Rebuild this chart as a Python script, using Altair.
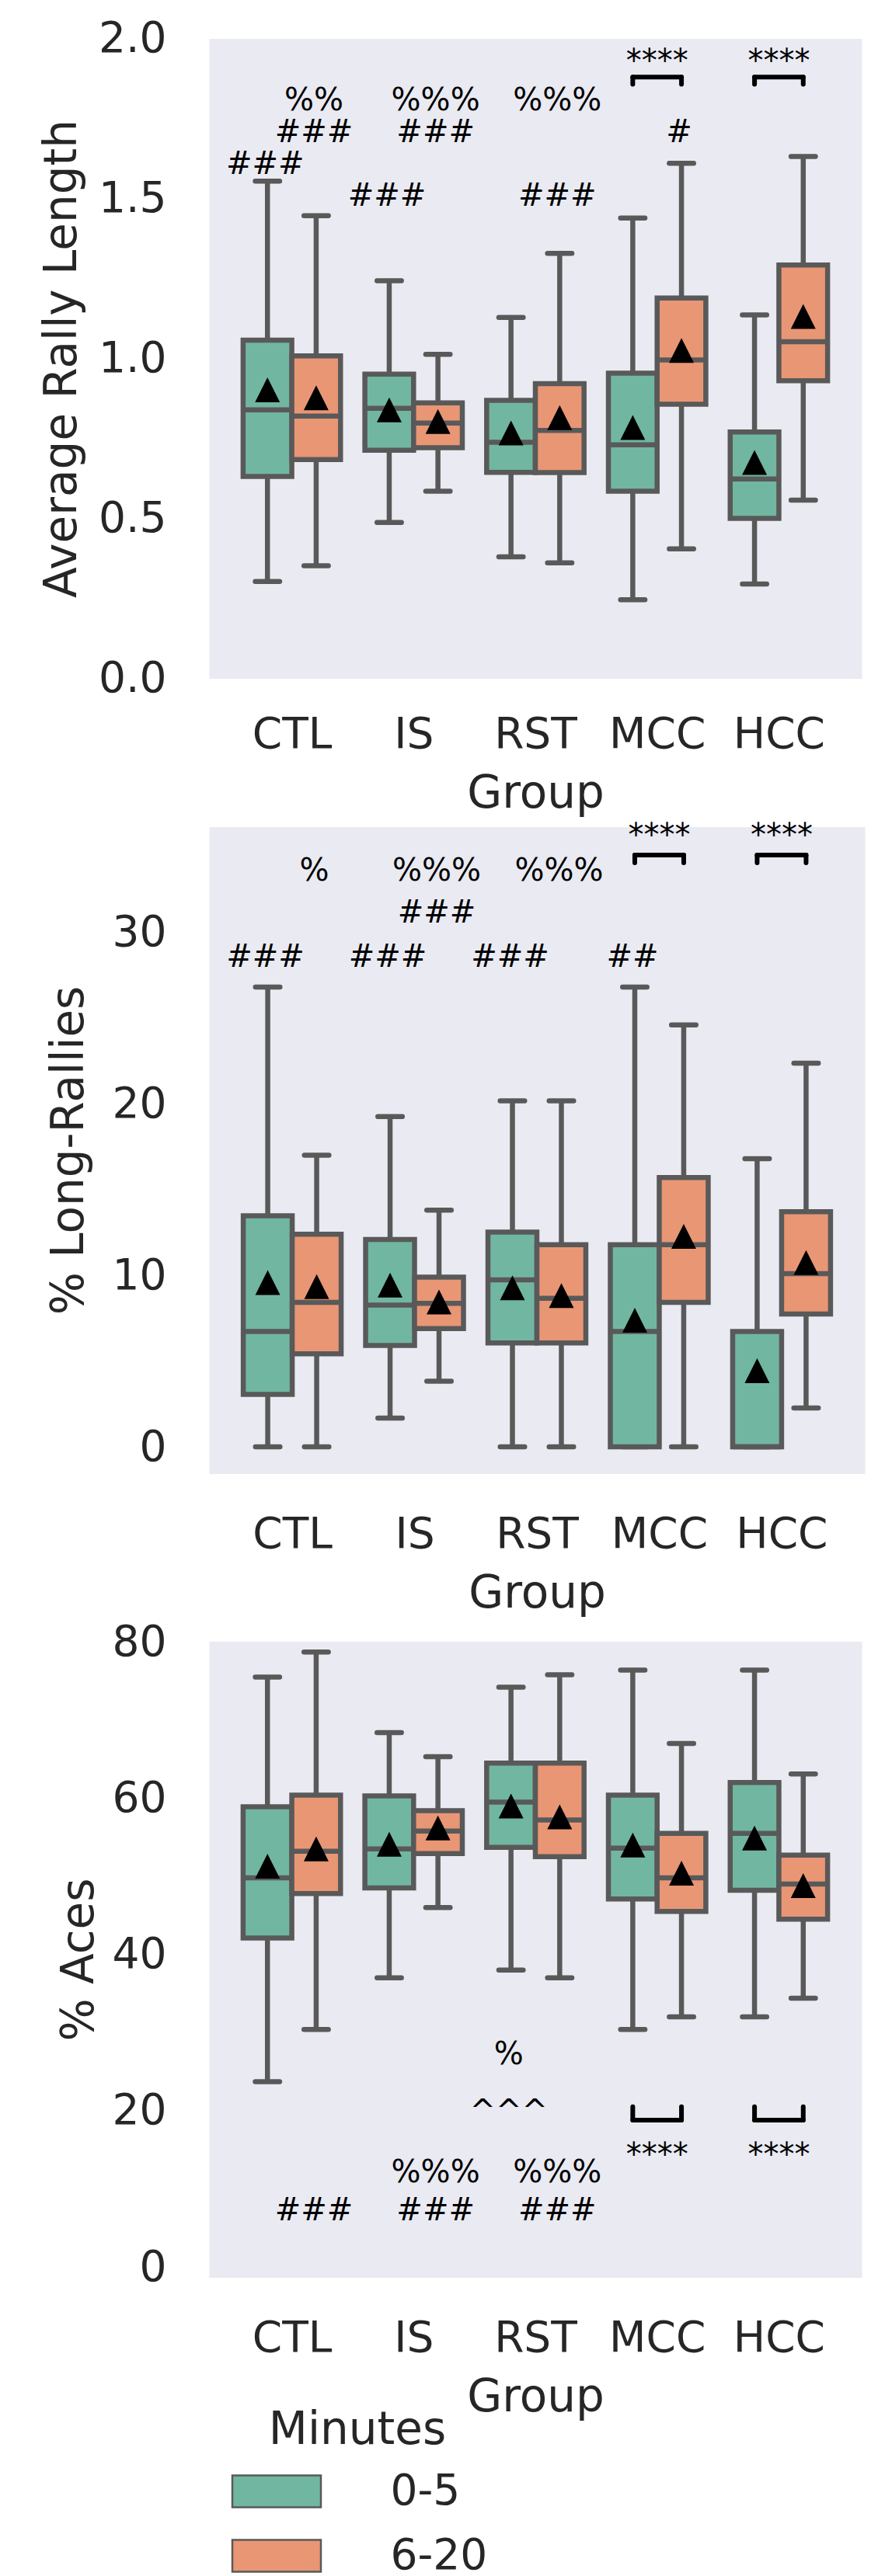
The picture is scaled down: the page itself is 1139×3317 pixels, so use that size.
import altair as alt
import pandas as pd

FONT = "DejaVu Sans"
TEXT = "#262626"
GRAY = "#595959"
BG = "#eaeaf2"

GROUPS = ["CTL", "IS", "RST", "MCC", "HCC"]
MINUTES = ["0-5", "6-20"]
COLORS = ["#71b6a1", "#e99675"]
DODGE = 0.4
X_DOMAIN = [-0.68, 4.68]

# order of every box array: CTL 0-5, CTL 6-20, IS 0-5, IS 6-20, RST ..., MCC ..., HCC ...
RALLY_LOW = [0.303, 0.352, 0.487, 0.585, 0.380, 0.361, 0.246, 0.405, 0.295, 0.557]
RALLY_Q1 = [0.631, 0.684, 0.713, 0.721, 0.644, 0.643, 0.585, 0.857, 0.500, 0.930]
RALLY_MED = [0.839, 0.820, 0.844, 0.798, 0.738, 0.775, 0.730, 0.995, 0.623, 1.052]
RALLY_Q3 = [1.057, 1.008, 0.951, 0.861, 0.869, 0.921, 0.954, 1.189, 0.770, 1.292]
RALLY_HIGH = [1.554, 1.446, 1.243, 1.013, 1.128, 1.328, 1.439, 1.610, 1.136, 1.631]
RALLY_MEAN = [0.902, 0.877, 0.839, 0.803, 0.767, 0.815, 0.784, 1.025, 0.675, 1.131]

LONG_LOW = [0.0, 0.0, 1.68, 3.83, 0.0, 0.0, 0.0, 0.0, 0.0, 2.26]
LONG_Q1 = [3.06, 5.42, 5.91, 6.89, 6.06, 6.06, 0.0, 8.42, 0.0, 7.74]
LONG_MED = [6.73, 8.42, 8.26, 8.36, 9.73, 8.66, 6.73, 11.78, 0.0, 10.10]
LONG_Q3 = [13.47, 12.40, 12.09, 9.89, 12.52, 11.78, 11.78, 15.70, 6.73, 13.71]
LONG_HIGH = [26.8, 17.0, 19.25, 13.8, 20.17, 20.17, 26.8, 24.6, 16.8, 22.37]
LONG_MEAN = [9.58, 9.34, 9.43, 8.45, 9.27, 8.82, 7.38, 12.27, 4.44, 10.74]

ACES_LOW = [23.7, 30.4, 37.0, 46.0, 38.0, 37.0, 30.4, 32.0, 32.0, 34.4]
ACES_Q1 = [42.1, 47.8, 48.5, 52.9, 53.7, 52.5, 47.1, 45.5, 48.2, 44.5]
ACES_MED = [49.8, 53.2, 53.5, 55.8, 59.5, 57.2, 53.6, 49.8, 55.5, 49.0]
ACES_Q3 = [58.9, 60.4, 60.3, 58.4, 64.5, 64.5, 60.4, 55.5, 62.0, 52.7]
ACES_HIGH = [75.5, 78.7, 68.4, 65.3, 74.2, 75.8, 76.4, 67.0, 76.4, 63.1]
ACES_MEAN = [51.3, 53.5, 54.1, 56.2, 59.0, 57.6, 54.0, 50.4, 54.9, 48.8]

# significance marks
RALLY_ANN_TEXT = ["###", "###", "%%", "###", "###", "%%%", "###", "%%%", "#"]
RALLY_ANN_GROUP = ["CTL", "CTL", "CTL", "IS", "IS", "IS", "RST", "RST", "MCC"]
RALLY_ANN_MIN = ["0-5", "6-20", "6-20", "0-5", "6-20", "6-20", "6-20", "6-20", "6-20"]
RALLY_ANN_Y = [1.612, 1.712, 1.811, 1.513, 1.712, 1.811, 1.513, 1.811, 1.712]

LONG_ANN_TEXT = ["###", "%", "###", "###", "%%%", "###", "%%%", "##"]
LONG_ANN_GROUP = ["CTL", "CTL", "IS", "IS", "IS", "RST", "RST", "MCC"]
LONG_ANN_MIN = ["0-5", "6-20", "0-5", "6-20", "6-20", "0-5", "6-20", "0-5"]
LONG_ANN_Y = [28.68, 33.67, 28.68, 31.22, 33.67, 28.68, 33.67, 28.68]

ACES_ANN_TEXT = ["%", "%%%", "%%%", "###", "###", "###"]
ACES_ANN_GROUP = ["RST", "IS", "RST", "CTL", "IS", "RST"]
ACES_ANN_MIN = ["0-5", "6-20", "6-20", "6-20", "6-20", "6-20"]
ACES_ANN_Y = [27.45, 12.3, 12.3, 7.45, 7.45, 7.45]
ACES_CARET_TEXT = ["^^^"]
ACES_CARET_GROUP = ["RST"]
ACES_CARET_MIN = ["0-5"]
ACES_CARET_Y = [21.0]

STAR_GROUPS = ["MCC", "HCC"]
STAR_TEXT = "****"
RALLY_STAR = [1.954, 1.879, 1.857]   # stars, bracket bar, bracket leg end
LONG_STAR = [36.12, 34.5, 34.04]
ACES_STAR = [15.4, 18.8, 20.5]


def pos(group, minute):
    return GROUPS.index(group) + (MINUTES.index(minute) - 0.5) * DODGE


def box_frame(low, q1, med, q3, high, mean):
    rows = []
    i = 0
    for g in GROUPS:
        for m in MINUTES:
            c = pos(g, m)
            rows.append({"group": g, "minutes": m, "x": c,
                         "x0": c - DODGE / 2, "x1": c + DODGE / 2,
                         "c0": c - DODGE / 4, "c1": c + DODGE / 4,
                         "low": low[i], "q1": q1[i], "med": med[i],
                         "q3": q3[i], "high": high[i], "mean": mean[i]})
            i += 1
    return pd.DataFrame(rows)


def ann_frame(texts, groups, mins, ys):
    return pd.DataFrame({"text": texts,
                         "x": [pos(g, m) for g, m in zip(groups, mins)],
                         "y": ys})


def star_frame(levels):
    rows = []
    for g in STAR_GROUPS:
        rows.append({"text": STAR_TEXT, "xm": GROUPS.index(g),
                     "x0": pos(g, "0-5"), "x1": pos(g, "6-20"),
                     "ys": levels[0], "yb": levels[1], "ye": levels[2]})
    return pd.DataFrame(rows)


LABEL_EXPR = "[" + ",".join("'%s'" % g for g in GROUPS) + "][round(datum.value)]"


def panel(boxes, anns, stars, carets, title, ydomain, yticks, fmt, width, height,
          title_pad, xlabel_pad=52, legend=None):
    xs = alt.Scale(domain=X_DOMAIN, nice=False, zero=False)
    ys = alt.Scale(domain=ydomain, nice=False, zero=False)
    xaxis = alt.Axis(values=list(range(len(GROUPS))), labelExpr=LABEL_EXPR,
                     title="Group", labelPadding=xlabel_pad, titlePadding=20)
    yaxis = alt.Axis(values=yticks, format=fmt, title=title, labelPadding=55,
                     titlePadding=title_pad)
    base = alt.Chart(boxes)
    whisk = base.mark_rule(color=GRAY, strokeWidth=6.5).encode(
        x=alt.X("x:Q", scale=xs, axis=xaxis),
        y=alt.Y("low:Q", scale=ys, axis=yaxis),
        y2="high:Q")
    cap_hi = base.mark_rule(color=GRAY, strokeWidth=6.5, strokeCap="round").encode(
        x="c0:Q", x2="c1:Q", y="high:Q")
    cap_lo = base.mark_rule(color=GRAY, strokeWidth=6.5, strokeCap="round").encode(
        x="c0:Q", x2="c1:Q", y="low:Q")
    color = alt.Color("minutes:N", scale=alt.Scale(domain=MINUTES, range=COLORS),
                      legend=legend)
    box = base.mark_rect(stroke=GRAY, strokeWidth=6.5).encode(
        x="x0:Q", x2="x1:Q", y="q1:Q", y2="q3:Q", color=color)
    med = base.mark_rule(color=GRAY, strokeWidth=6.5).encode(
        x="x0:Q", x2="x1:Q", y="med:Q")
    mean = base.mark_point(shape="M0,-1L-1,1L1,1Z", size=1024, filled=True,
                           color="black", opacity=1, strokeWidth=0).encode(
        x="x:Q", y="mean:Q")
    txt = alt.Chart(anns).mark_text(font=FONT, fontSize=40, color="black",
                                    dy=3, dx=-3).encode(
        x="x:Q", y="y:Q", text="text:N")
    sb = alt.Chart(stars)
    star_txt = sb.mark_text(font=FONT, fontSize=40, color="black", dy=12).encode(
        x="xm:Q", y="ys:Q", text="text:N")
    bar = sb.mark_rule(color="black", strokeWidth=6, strokeCap="round").encode(
        x="x0:Q", x2="x1:Q", y="yb:Q")
    leg0 = sb.mark_rule(color="black", strokeWidth=6, strokeCap="round").encode(
        x="x0:Q", y="yb:Q", y2="ye:Q")
    leg1 = sb.mark_rule(color="black", strokeWidth=6, strokeCap="round").encode(
        x="x1:Q", y="yb:Q", y2="ye:Q")
    layers = [whisk, cap_hi, cap_lo, box, med, mean, txt, bar, leg0, leg1, star_txt]
    if carets is not None:
        layers.append(alt.Chart(carets).mark_text(font=FONT, fontSize=40,
                                                  color="black", dy=12, dx=-3).encode(
            x="x:Q", y="y:Q", text="text:N"))
    return alt.layer(*layers).properties(width=width, height=height)


legend = alt.Legend(orient="none", direction="vertical", legendX=23, legendY=987,
                    title="Minutes", titleFont=FONT, titleFontSize=58,
                    titleFontWeight="normal", titleColor=TEXT, titleAnchor="middle",
                    titlePadding=22, titleLimit=500,
                    labelFont=FONT, labelFontSize=55, labelColor=TEXT, labelLimit=400,
                    symbolType="M-2.78,-1L2.78,-1L2.78,1L-2.78,1Z", symbolSize=1681,
                    symbolOffset=36.5, labelOffset=119, symbolStrokeColor=GRAY,
                    symbolStrokeWidth=2.5, symbolOpacity=1, rowPadding=27, padding=0)

p1 = panel(box_frame(RALLY_LOW, RALLY_Q1, RALLY_MED, RALLY_Q3, RALLY_HIGH, RALLY_MEAN),
           ann_frame(RALLY_ANN_TEXT, RALLY_ANN_GROUP, RALLY_ANN_MIN, RALLY_ANN_Y),
           star_frame(RALLY_STAR), None,
           "Average Rally Length", [0.0, 2.0], [0, 0.5, 1.0, 1.5, 2.0], ".1f",
           840, 824, 17, xlabel_pad=46)
p2 = panel(box_frame(LONG_LOW, LONG_Q1, LONG_MED, LONG_Q3, LONG_HIGH, LONG_MEAN),
           ann_frame(LONG_ANN_TEXT, LONG_ANN_GROUP, LONG_ANN_MIN, LONG_ANN_Y),
           star_frame(LONG_STAR), None,
           "% Long-Rallies", [-1.56, 36.15], [0, 10, 20, 30], "d",
           844, 833, 26)
p3 = panel(box_frame(ACES_LOW, ACES_Q1, ACES_MED, ACES_Q3, ACES_HIGH, ACES_MEAN),
           ann_frame(ACES_ANN_TEXT, ACES_ANN_GROUP, ACES_ANN_MIN, ACES_ANN_Y),
           star_frame(ACES_STAR),
           ann_frame(ACES_CARET_TEXT, ACES_CARET_GROUP, ACES_CARET_MIN, ACES_CARET_Y),
           "% Aces", [-1.34, 80.07], [0, 20, 40, 60, 80], "d",
           840, 819, 13, legend=legend)

chart = alt.vconcat(p1, p2, p3, spacing=4).resolve_legend(
    color="independent"
).properties(
    padding={"left": 43, "top": 13.5, "right": 5, "bottom": 0}
).configure_view(
    fill=BG, stroke="transparent"
).configure_axis(
    domain=False, ticks=False, grid=False,
    labelFont=FONT, labelFontSize=55, labelColor=TEXT,
    titleFont=FONT, titleFontSize=58, titleFontWeight="normal", titleColor=TEXT
)

chart.save("out.html", embed_options={"renderer": "svg", "actions": False})
